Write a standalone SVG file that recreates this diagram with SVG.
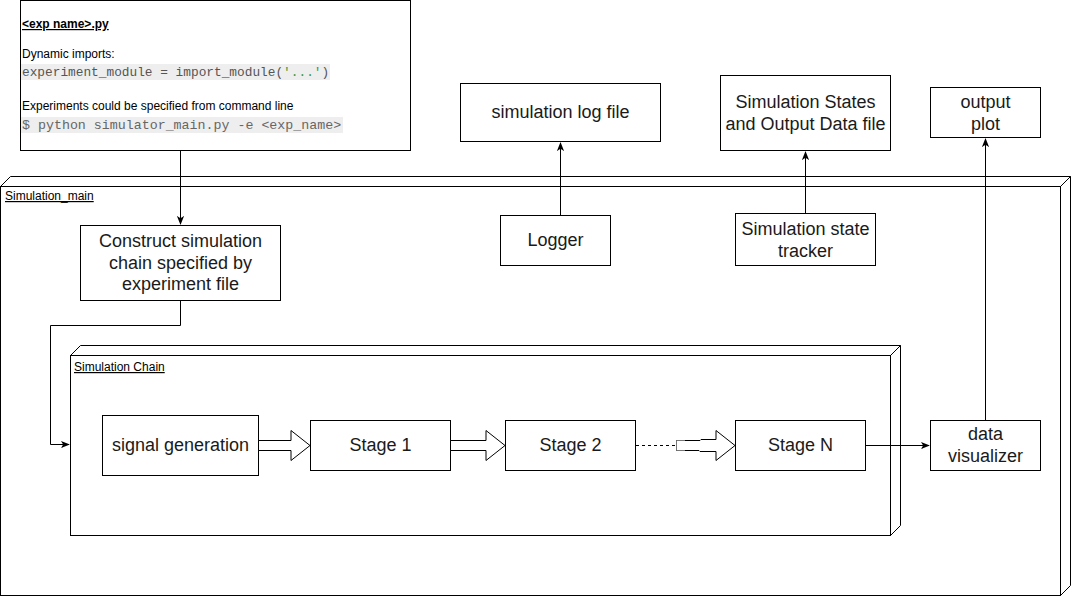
<svg xmlns="http://www.w3.org/2000/svg" width="1071" height="596" viewBox="0 0 1071 596">
<style>
.box{fill:#fff;stroke:#000;stroke-width:1}
.frame{fill:#fff;stroke:#000;stroke-width:1}
.lbl{font-family:"Liberation Sans",Arial,sans-serif;font-size:18px;fill:#1a1a1a;text-anchor:middle}
.small{font-family:"Liberation Sans",Arial,sans-serif;font-size:12px;fill:#000}
.code{font-family:"Liberation Mono","DejaVu Sans Mono",monospace;font-size:12.8px;fill:#555}
.code2{font-family:"Liberation Mono","DejaVu Sans Mono",monospace;font-size:13.3px;fill:#666}
.conn{fill:none;stroke:#000;stroke-width:1}
.block{fill:#fff;stroke:#000;stroke-width:1;stroke-linejoin:miter}
</style>
<defs>
<marker id="ah" viewBox="0 0 10 10" refX="9" refY="5" markerWidth="9" markerHeight="9" markerUnits="userSpaceOnUse" orient="auto">
<path d="M0,1 L10,5 L0,9 L2.5,5 Z" fill="#000"/>
</marker>
</defs>
<rect width="1071" height="596" fill="#fff"/>

<g id="simulation_main">
<polygon class="frame" points="0.5,186.5 10.5,176.5 1070.5,176.5 1060.5,186.5"/>
<polygon class="frame" points="1060.5,186.5 1070.5,176.5 1070.5,585.5 1060.5,595.5"/>
<rect class="frame" x="0.5" y="186.5" width="1060" height="409"/>
<text class="small" x="5" y="200" text-decoration="underline">Simulation_main</text>
</g>

<g id="simulation_chain">
<polygon class="frame" points="70.5,355.5 80.5,345.5 900.5,345.5 890.5,355.5"/>
<polygon class="frame" points="890.5,355.5 900.5,345.5 900.5,525.5 890.5,535.5"/>
<rect class="frame" x="70.5" y="355.5" width="820" height="180"/>
<text class="small" x="74" y="371" text-decoration="underline">Simulation Chain</text>
</g>

<g id="exp_file">
<rect class="box" x="20.5" y="0.5" width="390" height="150"/>
<text class="small" x="22" y="28" font-weight="bold" text-decoration="underline">&lt;exp name&gt;.py</text>
<text class="small" x="22" y="58">Dynamic imports:</text>
<rect x="21" y="64" width="309" height="16" fill="#eeeeee"/>
<text class="code" x="22" y="76" xml:space="preserve">experiment_module = import_module(<tspan fill="#3a9a3a">'...'</tspan>)</text>
<text class="small" x="22" y="110">Experiments could be specified from command line</text>
<rect x="21" y="117" width="322" height="16" fill="#eeeeee"/>
<text class="code2" x="22" y="129">$ python simulator_main.py -e &lt;exp_name&gt;</text>
</g>

<g id="construct">
<rect class="box" x="80.5" y="225.5" width="200" height="75"/>
<text class="lbl" x="180.5" y="247">Construct simulation</text>
<text class="lbl" x="180.5" y="269">chain specified by</text>
<text class="lbl" x="180.5" y="290">experiment file</text>
</g>

<g id="log_file">
<rect class="box" x="460.5" y="83.5" width="200" height="58"/>
<text class="lbl" x="560.5" y="118">simulation log file</text>
</g>

<g id="logger">
<rect class="box" x="500.5" y="215.5" width="110" height="50"/>
<text class="lbl" x="555.5" y="246">Logger</text>
</g>

<g id="states_file">
<rect class="box" x="720.5" y="75.5" width="170" height="75"/>
<text class="lbl" x="805.5" y="108">Simulation States</text>
<text class="lbl" x="805.5" y="130">and Output Data file</text>
</g>

<g id="state_tracker">
<rect class="box" x="735.5" y="213.5" width="140" height="52"/>
<text class="lbl" x="805.5" y="235">Simulation state</text>
<text class="lbl" x="805.5" y="257">tracker</text>
</g>

<g id="output_plot">
<rect class="box" x="930.5" y="87.5" width="110" height="50"/>
<text class="lbl" x="985.5" y="108">output</text>
<text class="lbl" x="985.5" y="130">plot</text>
</g>

<g id="signal_generation">
<rect class="box" x="102.5" y="415.5" width="156" height="60"/>
<text class="lbl" x="180.5" y="451">signal generation</text>
</g>

<g id="stage1">
<rect class="box" x="310.5" y="420.5" width="140" height="50"/>
<text class="lbl" x="380.5" y="451">Stage 1</text>
</g>

<g id="stage2">
<rect class="box" x="505.5" y="420.5" width="130" height="50"/>
<text class="lbl" x="570.5" y="451">Stage 2</text>
</g>

<g id="stageN">
<rect class="box" x="735.5" y="420.5" width="130" height="50"/>
<text class="lbl" x="800.5" y="451">Stage N</text>
</g>

<g id="data_visualizer">
<rect class="box" x="930.5" y="420.5" width="110" height="50"/>
<text class="lbl" x="985.5" y="440">data</text>
<text class="lbl" x="985.5" y="462">visualizer</text>
</g>

<g id="connectors">
<path class="conn" d="M180.5,150.5 V224" marker-end="url(#ah)"/>
<path class="conn" d="M180.5,300.5 V325.5 H50.5 V444.5 H69" marker-end="url(#ah)"/>
<path class="conn" d="M560.5,215.5 V143" marker-end="url(#ah)"/>
<path class="conn" d="M805.5,213.5 V152" marker-end="url(#ah)"/>
<path class="conn" d="M985.5,420.5 V139" marker-end="url(#ah)"/>
<path class="conn" d="M865.5,445.5 H929" marker-end="url(#ah)"/>
<path class="block" d="M258.5,440.5 H291 V430.5 L310,445.5 L291,460.5 V450.5 H258.5 Z"/>
<path class="block" d="M450.5,440.5 H486 V430.5 L505,445.5 L486,460.5 V450.5 H450.5 Z"/>
<path class="conn" d="M636,445.5 H685" stroke-dasharray="3,3"/>
<path class="block" d="M676.5,440.5 H700 L701,439.5 H716 V430.5 L735,445.5 L716,460.5 V451.5 H700 L699,450.5 H676.5 Z"/>
<path d="M676.5,440.5 H685 M676.5,440.5 V450.5 H685" fill="none" stroke="#777" stroke-width="1"/>
</g>
</svg>
